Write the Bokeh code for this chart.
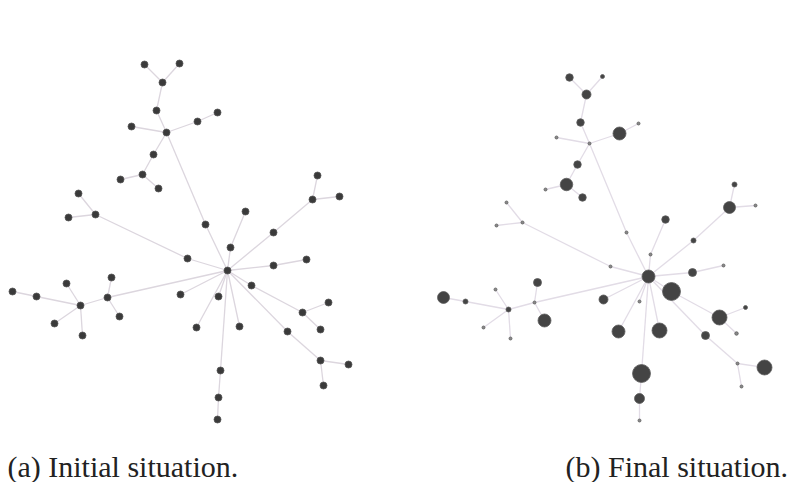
from bokeh.plotting import figure
from bokeh.models import Range1d, ColumnDataSource, Label
from bokeh.embed import file_html
from bokeh.resources import INLINE

# Node positions (pixel-like layout coordinates), initial situation
x_init = [227, 205, 166, 131, 197, 217, 156, 162, 144, 179,
          153, 142, 120, 158, 187, 95, 78, 68, 230, 245,
          273, 312, 317, 339, 273, 306, 251, 302, 328, 320,
          287, 320, 348, 323, 180, 218, 196, 239, 220, 218,
          217, 107, 111, 119, 80, 66, 36, 12, 54, 82]
y_init = [270, 224, 132, 126, 121, 112, 110, 82, 64, 63,
          154, 174, 179, 188, 258, 214, 193, 217, 247, 211,
          232, 199, 175, 196, 265, 259, 285, 312, 302, 329,
          331, 360, 364, 385, 294, 296, 327, 326, 370, 397,
          419, 297, 277, 316, 305, 283, 296, 291, 323, 335]

# Node positions, final situation
x_final = [648, 626, 589, 556, 619, 638, 580, 586, 569, 602,
           577, 566, 545, 582, 610, 522, 506, 496, 650, 665,
           693, 729, 734, 755, 692, 723, 671, 719, 745, 736,
           705, 737, 764, 741, 603, 639, 618, 659, 641, 639,
           639, 534, 537, 544, 508, 495, 465, 443, 483, 510]
y_final = [276, 232, 143, 137, 133, 123, 122, 94, 77, 76,
           164, 184, 189, 197, 266, 222, 202, 225, 254, 219,
           240, 207, 184, 205, 272, 265, 291, 317, 307, 333,
           335, 363, 367, 386, 299, 301, 331, 330, 373, 398,
           420, 302, 282, 320, 309, 289, 301, 297, 327, 338]

# Node sizes in the final situation (diameter)
size_final = [13, 3, 3, 3, 13, 3, 7.5, 9, 7.5, 4,
              7.5, 12.5, 3, 7.5, 3, 3, 3, 3, 3, 7.5,
              5, 12, 5, 3, 8, 3, 18, 15, 4, 3.5,
              8, 3, 15, 3, 9, 3, 13, 15, 18, 10,
              3, 3, 8, 13, 5, 3, 5, 12, 3, 3]

# Edges (node index pairs)
edge_src = [0, 1, 2, 2, 4, 2, 6, 7, 7, 2, 10, 11, 11, 0, 14, 15, 15,
            0, 18, 0, 20, 21, 21, 0, 24, 0, 26, 27, 27, 0, 30, 31, 31,
            0, 0, 0, 0, 0, 38, 39, 0, 41, 41, 41, 44, 44, 46, 44, 44]
edge_dst = [1, 2, 3, 4, 5, 6, 7, 8, 9, 10, 11, 12, 13, 14, 15, 16, 17,
            18, 19, 20, 21, 22, 23, 24, 25, 26, 27, 28, 29, 30, 31, 32, 33,
            34, 35, 36, 37, 38, 39, 40, 41, 42, 43, 44, 45, 46, 47, 48, 49]

captions = ["(a) Initial situation.", "(b) Final situation."]
caption_x = [7, 565]
caption_y = [466, 466]

p = figure(width=795, height=482, output_backend="svg", toolbar_location=None,
           x_range=Range1d(0, 795), y_range=Range1d(482, 0),
           min_border=0)
p.axis.visible = False
p.grid.visible = False
p.outline_line_color = None
p.background_fill_color = "white"

edges_init = ColumnDataSource(dict(
    x0=[x_init[i] for i in edge_src], y0=[y_init[i] for i in edge_src],
    x1=[x_init[j] for j in edge_dst], y1=[y_init[j] for j in edge_dst]))
edges_final = ColumnDataSource(dict(
    x0=[x_final[i] for i in edge_src], y0=[y_final[i] for i in edge_src],
    x1=[x_final[j] for j in edge_dst], y1=[y_final[j] for j in edge_dst]))

p.segment("x0", "y0", "x1", "y1", source=edges_init, line_color="#dcd6de", line_width=1.3)
p.segment("x0", "y0", "x1", "y1", source=edges_final, line_color="#e2dce6", line_width=1.3)

p.scatter(x_init, y_init, size=7, fill_color="#3a3a3a", line_color="#555555", line_width=0.8)

big = [s >= 4 for s in size_final]
src_f = ColumnDataSource(dict(x=x_final, y=y_final, s=size_final,
                              c=["#444444" if b else "#8a8a8a" for b in big]))
p.scatter("x", "y", size="s", source=src_f, fill_color="c", line_color="#5c5c5c", line_width=0.8)

for cx, cy, ct in zip(caption_x, caption_y, captions):
    p.add_layout(Label(x=cx, y=cy, text=ct, text_font="Liberation Serif",
                       text_font_size="30px", text_color="#222222",
                       text_baseline="middle"))

open("out.html", "w").write(file_html(p, INLINE))
